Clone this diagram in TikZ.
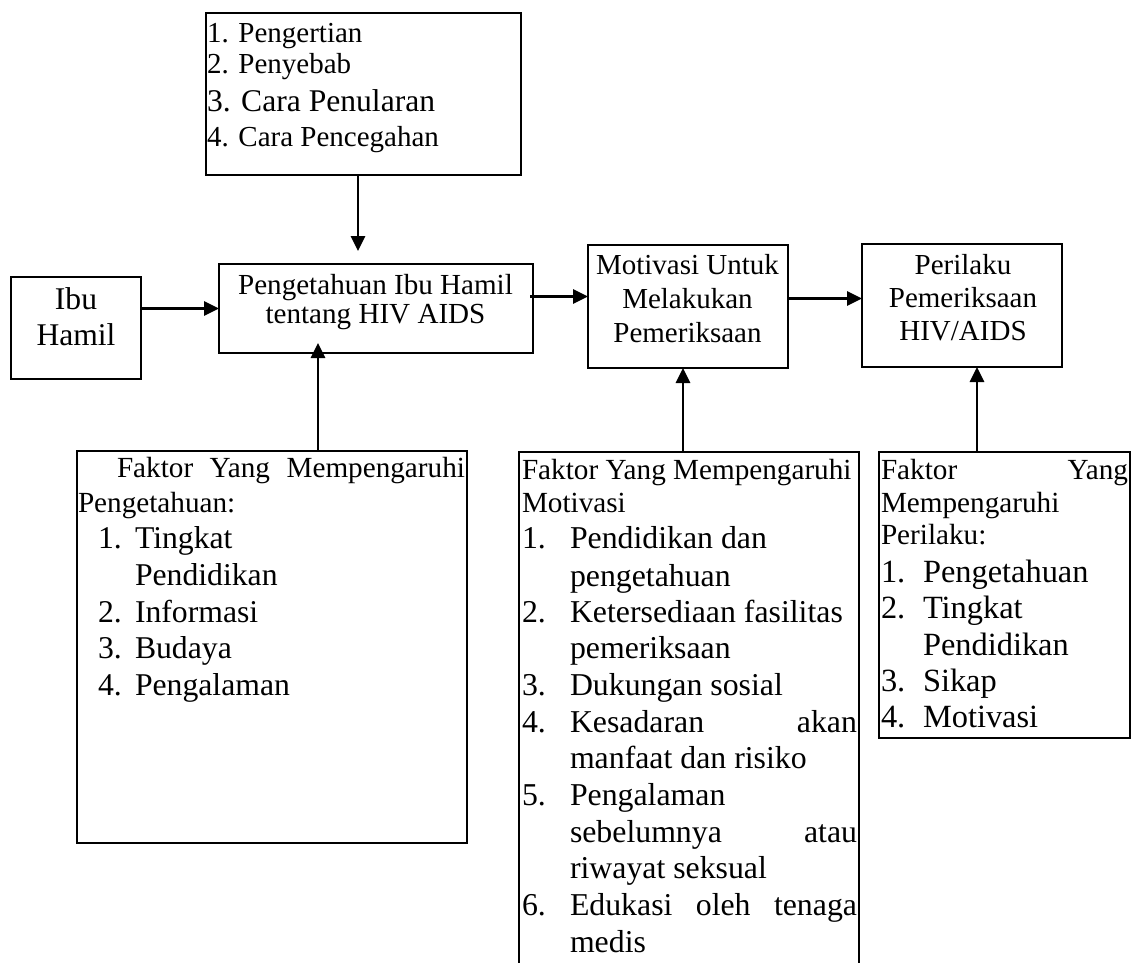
\documentclass[tikz,border=0pt]{standalone}
\usepackage{fontspec}
\setmainfont{Liberation Serif}
\usetikzlibrary{arrows.meta,calc}
\newcommand\fsz[1]{\fontsize{#1pt}{#1pt}\selectfont}
\begin{document}
\begin{tikzpicture}[x=1pt,y=-1pt,
  box/.style={draw, line width=2.4pt, inner sep=0pt, outer sep=0pt, rectangle},
  arr/.style={line width=2.7pt, -{Triangle[length=15pt,width=14pt]}},
  lt/.style={inner sep=0pt, outer sep=0pt, anchor=base west},
  ct/.style={inner sep=0pt, outer sep=0pt, anchor=base}]
\useasboundingbox (0,0) rectangle (1136,963);
\fill[white] (0,0) rectangle (1136,963);

% boxes
\node[box, minimum width=315pt, minimum height=162pt] (top) at (363.5,94) {};
\node[box, minimum width=130pt, minimum height=102pt] (ibu) at (76,328) {};
\node[box, minimum width=314pt, minimum height=89pt] (peng) at (376,308.5) {};
\node[box, minimum width=200pt, minimum height=123pt] (mot) at (688,306.5) {};
\node[box, minimum width=200pt, minimum height=123pt] (per) at (962,305.5) {};
\node[box, minimum width=390pt, minimum height=392pt] (fak1) at (272,647) {};
\node[box, minimum width=340pt, minimum height=528pt] (fak2) at (689,716) {};
\node[box, minimum width=251pt, minimum height=286pt] (fak3) at (1004.5,595) {};

% top box text
\node[lt] (a1) at (207,43) {\fsz{29}1. Pengertian};
\node[lt] (a2) at (207,74) {\fsz{29}2. Penyebab};
\node[lt] (a3) at (207,112) {\fsz{31.6}3. Cara Penularan};
\node[lt] (a4) at (207,147) {\fsz{29}4. Cara Pencegahan};

% main boxes text
\node[ct] (i1) at (76,309) {\fsz{31.6}Ibu};
\node[ct] (i2) at (76,345) {\fsz{31.6}Hamil};
\node[ct] (p1) at (375.5,294) {\fsz{29.1}Pengetahuan Ibu Hamil};
\node[ct] (p2) at (375.5,323) {\fsz{29.1}tentang HIV AIDS};
\node[ct] (m1) at (687.5,274) {\fsz{29}Motivasi Untuk};
\node[ct] (m2) at (687.5,308) {\fsz{29}Melakukan};
\node[ct] (m3) at (687.5,342) {\fsz{29}Pemeriksaan};
\node[ct] (r1) at (963,274) {\fsz{29}Perilaku};
\node[ct] (r2) at (963,307) {\fsz{29}Pemeriksaan};
\node[ct] (r3) at (963,340) {\fsz{29}HIV/AIDS};

% factor box 1
\node[lt] (f1a) at (117,477) {\fsz{29.2}\hbox to 348pt{Faktor\hfill Yang\hfill Mempengaruhi}};
\node[lt] (f1b) at (78,512) {\fsz{29.2}Pengetahuan:};
\node[lt] (f1n1) at (98,548) {\fsz{31.7}1.};
\node[lt] (f1t1) at (135,548) {\fsz{31.7}Tingkat};
\node[lt] (f1t1b) at (135,585) {\fsz{31.7}Pendidikan};
\node[lt] (f1n2) at (98,622) {\fsz{31.7}2.};
\node[lt] (f1t2) at (135,622) {\fsz{31.7}Informasi};
\node[lt] (f1n3) at (98,658) {\fsz{31.7}3.};
\node[lt] (f1t3) at (135,658) {\fsz{31.7}Budaya};
\node[lt] (f1n4) at (98,695) {\fsz{31.7}4.};
\node[lt] (f1t4) at (135,695) {\fsz{31.7}Pengalaman};

% factor box 2
\node[lt] (f2a) at (522,479) {\fsz{29.2}Faktor Yang Mempengaruhi};
\node[lt] (f2b) at (522,512) {\fsz{29.2}Motivasi};
\node[lt] (f2n1) at (522,548) {\fsz{31.8}1.};
\node[lt] (f2t1) at (570,548) {\fsz{31.8}Pendidikan dan};
\node[lt] (f2t1b) at (570,586) {\fsz{31.8}pengetahuan};
\node[lt] (f2n2) at (522,622) {\fsz{31.8}2.};
\node[lt] (f2t2) at (570,622) {\fsz{31.8}Ketersediaan fasilitas};
\node[lt] (f2t2b) at (570,658) {\fsz{31.8}pemeriksaan};
\node[lt] (f2n3) at (522,695) {\fsz{31.8}3.};
\node[lt] (f2t3) at (570,695) {\fsz{31.8}Dukungan sosial};
\node[lt] (f2n4) at (522,732) {\fsz{31.8}4.};
\node[lt] (f2t4) at (570,732) {\fsz{31.8}\hbox to 287pt{Kesadaran\hfill akan}};
\node[lt] (f2t4b) at (570,768) {\fsz{31.8}manfaat dan risiko};
\node[lt] (f2n5) at (522,805) {\fsz{31.8}5.};
\node[lt] (f2t5) at (570,805) {\fsz{31.8}Pengalaman};
\node[lt] (f2t5b) at (570,842) {\fsz{31.8}\hbox to 287pt{sebelumnya\hfill atau}};
\node[lt] (f2t5c) at (570,878) {\fsz{31.8}riwayat seksual};
\node[lt] (f2n6) at (522,915) {\fsz{31.8}6.};
\node[lt] (f2t6) at (570,915) {\fsz{31.8}\hbox to 287pt{Edukasi\hfill oleh\hfill tenaga}};
\node[lt] (f2t6b) at (570,952) {\fsz{31.8}medis};

% factor box 3
\node[lt] (f3a) at (881,479) {\fsz{29.2}\hbox to 247pt{Faktor\hfill Yang}};
\node[lt] (f3b) at (881,512) {\fsz{29.2}Mempengaruhi};
\node[lt] (f3c) at (881,544) {\fsz{29.2}Perilaku:};
\node[lt] (f3n1) at (881,582) {\fsz{32.4}1.};
\node[lt] (f3t1) at (923,582) {\fsz{32.4}Pengetahuan};
\node[lt] (f3n2) at (881,618) {\fsz{32.4}2.};
\node[lt] (f3t2) at (923,618) {\fsz{32.4}Tingkat};
\node[lt] (f3t2b) at (923,655) {\fsz{32.4}Pendidikan};
\node[lt] (f3n3) at (881,691) {\fsz{32.4}3.};
\node[lt] (f3t3) at (923,691) {\fsz{32.4}Sikap};
\node[lt] (f3n4) at (881,727) {\fsz{32.4}4.};
\node[lt] (f3t4) at (923,727) {\fsz{32.4}Motivasi};

% connectors
\draw[arr] (ibu.east |- peng.west) -- (peng.west);
\coordinate (pm) at ($(peng.east)+(-3,-12)$);
\draw[arr] (pm) -- (pm -| mot.west);
\coordinate (mp) at ($(mot.east)+(0,-8)$);
\draw[arr] (mp) -- (mp -| per.west);
\coordinate (tp) at ($(top.south)+(-5.5,0)$);
\draw[arr, shorten >=13pt] (tp) -- (tp |- peng.north);
\coordinate (b1) at ($(fak1.north)+(46,0)$);
\draw[arr, shorten >=-10pt] (b1) -- (b1 |- peng.south);
\coordinate (b2) at ($(fak2.north)+(-6,0)$);
\draw[arr] (b2) -- (b2 |- mot.south);
\coordinate (b3) at ($(fak3.north)+(-27.5,0)$);
\draw[arr] (b3) -- (b3 |- per.south);
\end{tikzpicture}
\end{document}
